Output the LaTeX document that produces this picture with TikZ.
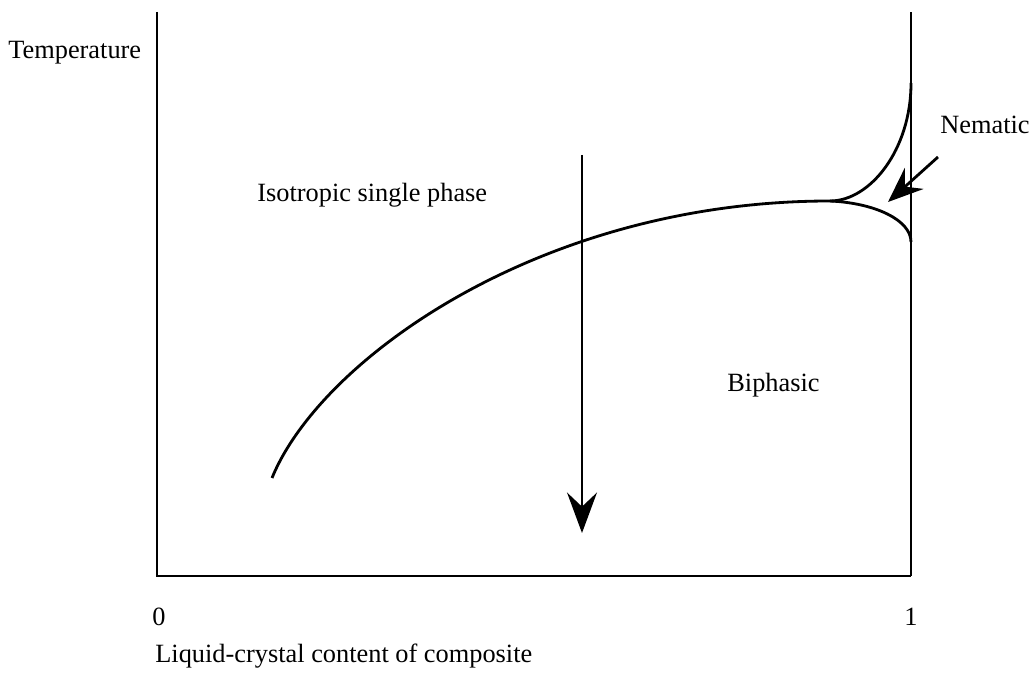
\documentclass[tikz,border=0pt]{standalone}
\usepackage{fontspec}
\setmainfont{Liberation Serif}
\usetikzlibrary{arrows.meta}
\usetikzlibrary{math}
\tikzset{
  phaseline/.style={line width=1.6pt},
  bigtip/.style={-{Stealth[length=23pt,width=17pt,inset=8pt]}, line width=1.6pt},
  smalltip/.style={-{Stealth[length=20pt,width=16pt,inset=7pt]}, line width=1.6pt},
  lab/.style={anchor=base west, inner sep=0pt, font=\fontsize{15}{18}\selectfont},
}

\begin{document}
\begin{tikzpicture}[x=0.02cm,y=-0.02cm]
\tikzmath{
\xl=157;
\xr=911;
\yt=12;
\yb=576;
}
\useasboundingbox (0,0) rectangle (1031,675);

% frame of the diagram
\coordinate (TL) at (\xl,\yt);
\coordinate (BL) at (\xl,\yb);
\coordinate (BR) at (\xr,\yb);
\coordinate (TR) at (\xr,\yt);
\draw[phaseline] (TL) -- (BL) -- (BR);
\draw[phaseline] (BR) -- (TR);

% isotropic / biphasic boundary and nematic cusp
\coordinate (S) at (272,478);
\coordinate (K) at (830,201);
\coordinate (U) at (\xr,83);
\coordinate (D) at (\xr,242);
\draw[phaseline] (S) .. controls (320,360) and (540,201) .. (K);
\draw[phaseline] (K) .. controls (870,201) and (\xr,150) .. (U);
\draw[phaseline] (K) .. controls (875,203) and (\xr,220) .. (D);

% quench path
\coordinate (Q1) at (582,155);
\coordinate (Q2) at (582,533);
\draw[bigtip] (Q1) -- (Q2);

% pointer to the nematic region
\coordinate (N1) at (938,157);
\coordinate (N2) at (888,202);
\draw[smalltip] (N1) -- (N2);

\node[lab] (temp) at (8,59) {Temperature};
\node[lab] (iso) at (257,202) {Isotropic single phase};
\node[lab] (nem) at (940,134) {Nematic};
\node[lab] (bip) at (727,392) {Biphasic};
\node[lab, anchor=base] (zero) at (159,625) {0};
\node[lab, anchor=base] (one) at (\xr,625) {1};
\node[lab] (xlab) at (155,662) {Liquid-crystal content of composite};
\end{tikzpicture}
\end{document}
